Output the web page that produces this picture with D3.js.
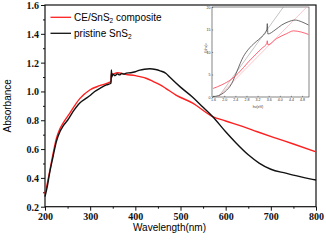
<!DOCTYPE html>
<html lang="en">
  <head>
    <meta charset="UTF-8" />
    <title>Absorbance</title>
    <script src="https://d3js.org/d3.v7.min.js"></script>
    <style>
      body { margin: 0; background: white; }
      .title { font-family: "Liberation Sans", Arial, sans-serif; font-size: 10px; }
      .small { font-family: "Liberation Sans", Arial, sans-serif; font-size: 3.6px; fill: #333; }
    </style>
  </head>
  <body>
    <div id="container"></div>
    <script>
      // main spectra: wavelength (nm) and absorbance
      const blackNm = [200, 205, 210, 218, 225, 233, 240, 250, 262, 277, 290, 299, 310, 321, 336, 345, 346, 347, 348, 350, 355, 360, 365, 370, 375, 380, 390, 400, 410, 420, 432, 445, 455, 468, 476, 500, 527, 550, 571, 600, 623, 650, 674, 700, 733, 760, 792, 800];
      const blackAbs = [0.27, 0.34, 0.43, 0.55, 0.65, 0.72, 0.76, 0.8, 0.86, 0.92, 0.95, 0.97, 1.0, 1.02, 1.045, 1.055, 1.06, 1.15, 1.1, 1.12, 1.11, 1.122, 1.115, 1.125, 1.12, 1.127, 1.13, 1.137, 1.148, 1.154, 1.157, 1.152, 1.143, 1.125, 1.1, 1.03, 0.96, 0.89, 0.826, 0.72, 0.642, 0.56, 0.503, 0.46, 0.433, 0.412, 0.39, 0.385];
      const redNm = [200, 205, 210, 218, 225, 233, 240, 255, 277, 299, 321, 340, 346, 347, 350, 360, 380, 400, 410, 425, 439, 454, 468, 490, 527, 571, 600, 637, 670, 711, 750, 800];
      const redAbs = [0.29, 0.36, 0.44, 0.57, 0.67, 0.74, 0.78, 0.85, 0.95, 1.01, 1.04, 1.06, 1.07, 1.125, 1.12, 1.13, 1.118, 1.11, 1.103, 1.09, 1.07, 1.048, 1.02, 0.975, 0.919, 0.826, 0.795, 0.757, 0.72, 0.676, 0.635, 0.58];

      // inset: photon energy (eV) and (αhν)^2
      const insetBlackEv = [1.6, 1.79, 2.03, 2.27, 2.45, 2.69, 2.87, 3.11, 3.35, 3.53, 3.55, 3.57, 3.83, 4.07, 4.3, 4.55, 4.79, 5.03];
      const insetBlackVal = [0.1, 0.3, 1.2, 3.0, 5.6, 9.0, 10.6, 12.1, 13.4, 14.9, 16.3, 14.0, 14.9, 16.0, 16.7, 17.1, 16.7, 16.0];
      const insetRedEv = [1.6, 1.91, 2.27, 2.51, 2.87, 3.35, 3.53, 3.55, 3.57, 3.89, 4.25, 4.49, 4.79, 5.03];
      const insetRedVal = [1.9, 2.7, 4.0, 5.3, 7.8, 10.8, 11.9, 12.5, 11.6, 13.0, 14.1, 14.7, 14.4, 13.9];
      const tangentGrayEv = [1.79, 4.13];
      const tangentPinkEv = [1.77, 4.97];
      const tangentVal = [0, 20];

      const legendNames = ["CE/SnS", "pristine SnS"];
      const legendColors = ["#ff1f1f", "#111111"];

      const width = 326;
      const height = 242;
      const margin = { top: 5, right: 10, bottom: 35.3, left: 45 };

      const svg = d3.select("#container").append("svg")
        .attr("width", width)
        .attr("height", height);

      const x = d3.scaleLinear().domain([200, 800]).range([margin.left, width - margin.right]);
      const y = d3.scaleLinear().domain([0.2, 1.6]).range([height - margin.bottom, margin.top]);

      const xAxis = d3.axisBottom(x).tickValues(d3.range(200, 801, 100)).tickSize(4).tickPadding(2).tickFormat(d3.format("d"));
      const yAxis = d3.axisLeft(y).tickValues(d3.range(0.2, 1.61, 0.2)).tickSize(4).tickPadding(2).tickFormat(d3.format(".1f"));
      // minor ticks
      const xMinor = d3.axisBottom(x).tickValues(d3.range(250, 800, 100)).tickSize(2).tickFormat("");
      const yMinor = d3.axisLeft(y).tickValues(d3.range(0.3, 1.6, 0.2)).tickSize(2).tickFormat("");

      const gx = svg.append("g").attr("transform", `translate(0,${height - margin.bottom})`).call(xAxis);
      svg.append("g").attr("transform", `translate(0,${height - margin.bottom})`).call(xMinor);
      const gy = svg.append("g").attr("transform", `translate(${margin.left},0)`).call(yAxis);
      svg.append("g").attr("transform", `translate(${margin.left},0)`).call(yMinor);
      svg.selectAll(".domain").remove();
      svg.selectAll(".tick line").attr("stroke", "#111");
      [gx, gy].forEach(function (g) {
        g.attr("font-family", null).attr("font-size", null);
        g.selectAll("text")
          .style("font-family", "'Liberation Serif', 'Times New Roman', serif")
          .style("font-weight", "bold")
          .style("font-size", "10px")
          .attr("fill", "#111");
      });
      gy.selectAll("text").attr("dy", "0.35em");

      // frame
      svg.append("rect")
        .attr("x", margin.left).attr("y", margin.top)
        .attr("width", width - margin.right - margin.left)
        .attr("height", height - margin.bottom - margin.top)
        .attr("fill", "none").attr("stroke", "#111").attr("stroke-width", 1.2);

      const line = d3.line().x(d => x(d[0])).y(d => y(d[1])).curve(d3.curveMonotoneX);

      svg.append("path").datum(d3.zip(redNm, redAbs))
        .attr("d", line).attr("fill", "none").attr("stroke", legendColors[0]).attr("stroke-width", 1.4);
      svg.append("path").datum(d3.zip(blackNm, blackAbs))
        .attr("d", line).attr("fill", "none").attr("stroke", legendColors[1]).attr("stroke-width", 1.4);

      // axis titles
      svg.append("text").attr("class", "title")
        .attr("x", (margin.left + width - margin.right) / 2 - 11).attr("y", 230.5)
        .attr("text-anchor", "middle").text("Wavelength(nm)");
      svg.append("text").attr("class", "title")
        .attr("transform", `translate(10.5,${(margin.top + height - margin.bottom) / 2}) rotate(-90)`)
        .attr("text-anchor", "middle").text("Absorbance");

      // legend
      const legend = svg.append("g");
      legendNames.forEach(function (name, i) {
        const ly = 17.3 + i * 16;
        legend.append("line").attr("x1", 50.5).attr("x2", 71).attr("y1", ly).attr("y2", ly)
          .attr("stroke", legendColors[i]).attr("stroke-width", 1.3);
        const t = legend.append("text").attr("class", "title").attr("x", 74).attr("y", ly + 3.5);
        t.append("tspan").text(name);
        t.append("tspan").attr("font-size", "6.5px").attr("dy", 2.5).text("2");
        if (i === 0) t.append("tspan").attr("dy", -2.5).text(" composite");
      });

      // inset
      const ix = d3.scaleLinear().domain([1.56, 5.05]).range([212, 309]);
      const iy = d3.scaleLinear().domain([0, 20]).range([97, 7]);
      const inset = svg.append("g");
      inset.append("rect").attr("x", 212).attr("y", 7).attr("width", 97).attr("height", 90)
        .attr("fill", "white").attr("stroke", "#333").attr("stroke-width", 0.6);

      const ixAxis = d3.axisBottom(ix).tickValues(d3.range(1.6, 4.81, 0.4)).tickSize(-1.2).tickPadding(1.5).tickFormat(d3.format(".1f"));
      const iyAxis = d3.axisLeft(iy).tickValues([0, 5, 10, 15, 20]).tickSize(-1.2).tickPadding(1.5).tickFormat(d3.format("d"));
      const gix = inset.append("g").attr("transform", "translate(0,97)").call(ixAxis);
      const giy = inset.append("g").attr("transform", "translate(212,0)").call(iyAxis);
      [gix, giy].forEach(function (g) {
        g.select(".domain").remove();
        g.selectAll(".tick line").attr("stroke", "#333").attr("stroke-width", 0.5);
        g.selectAll("text").attr("class", "small").attr("font-size", null);
      });
      inset.append("text").attr("class", "small").attr("x", 258).attr("y", 108)
        .attr("text-anchor", "middle").text("hν(eV)");
      inset.append("text").attr("class", "small")
        .attr("transform", "translate(206.5,48) rotate(-90)")
        .attr("text-anchor", "middle").text("(αhν)²");

      const iline = d3.line().x(d => ix(d[0])).y(d => iy(d[1]));
      const curves = inset.append("g");
      curves.append("path").datum(d3.zip(tangentGrayEv, tangentVal))
        .attr("d", iline).attr("stroke", "#9a9a9a").attr("stroke-width", 0.6).attr("fill", "none");
      curves.append("path").datum(d3.zip(tangentPinkEv, tangentVal))
        .attr("d", iline).attr("stroke", "#f7a1a8").attr("stroke-width", 0.6).attr("fill", "none");
      curves.append("path").datum(d3.zip(insetBlackEv, insetBlackVal))
        .attr("d", iline.curve(d3.curveMonotoneX)).attr("stroke", "#444").attr("stroke-width", 0.8).attr("fill", "none");
      curves.append("path").datum(d3.zip(insetRedEv, insetRedVal))
        .attr("d", iline.curve(d3.curveMonotoneX)).attr("stroke", "#ff3b50").attr("stroke-width", 0.8).attr("fill", "none");
    </script>
  </body>
</html>
